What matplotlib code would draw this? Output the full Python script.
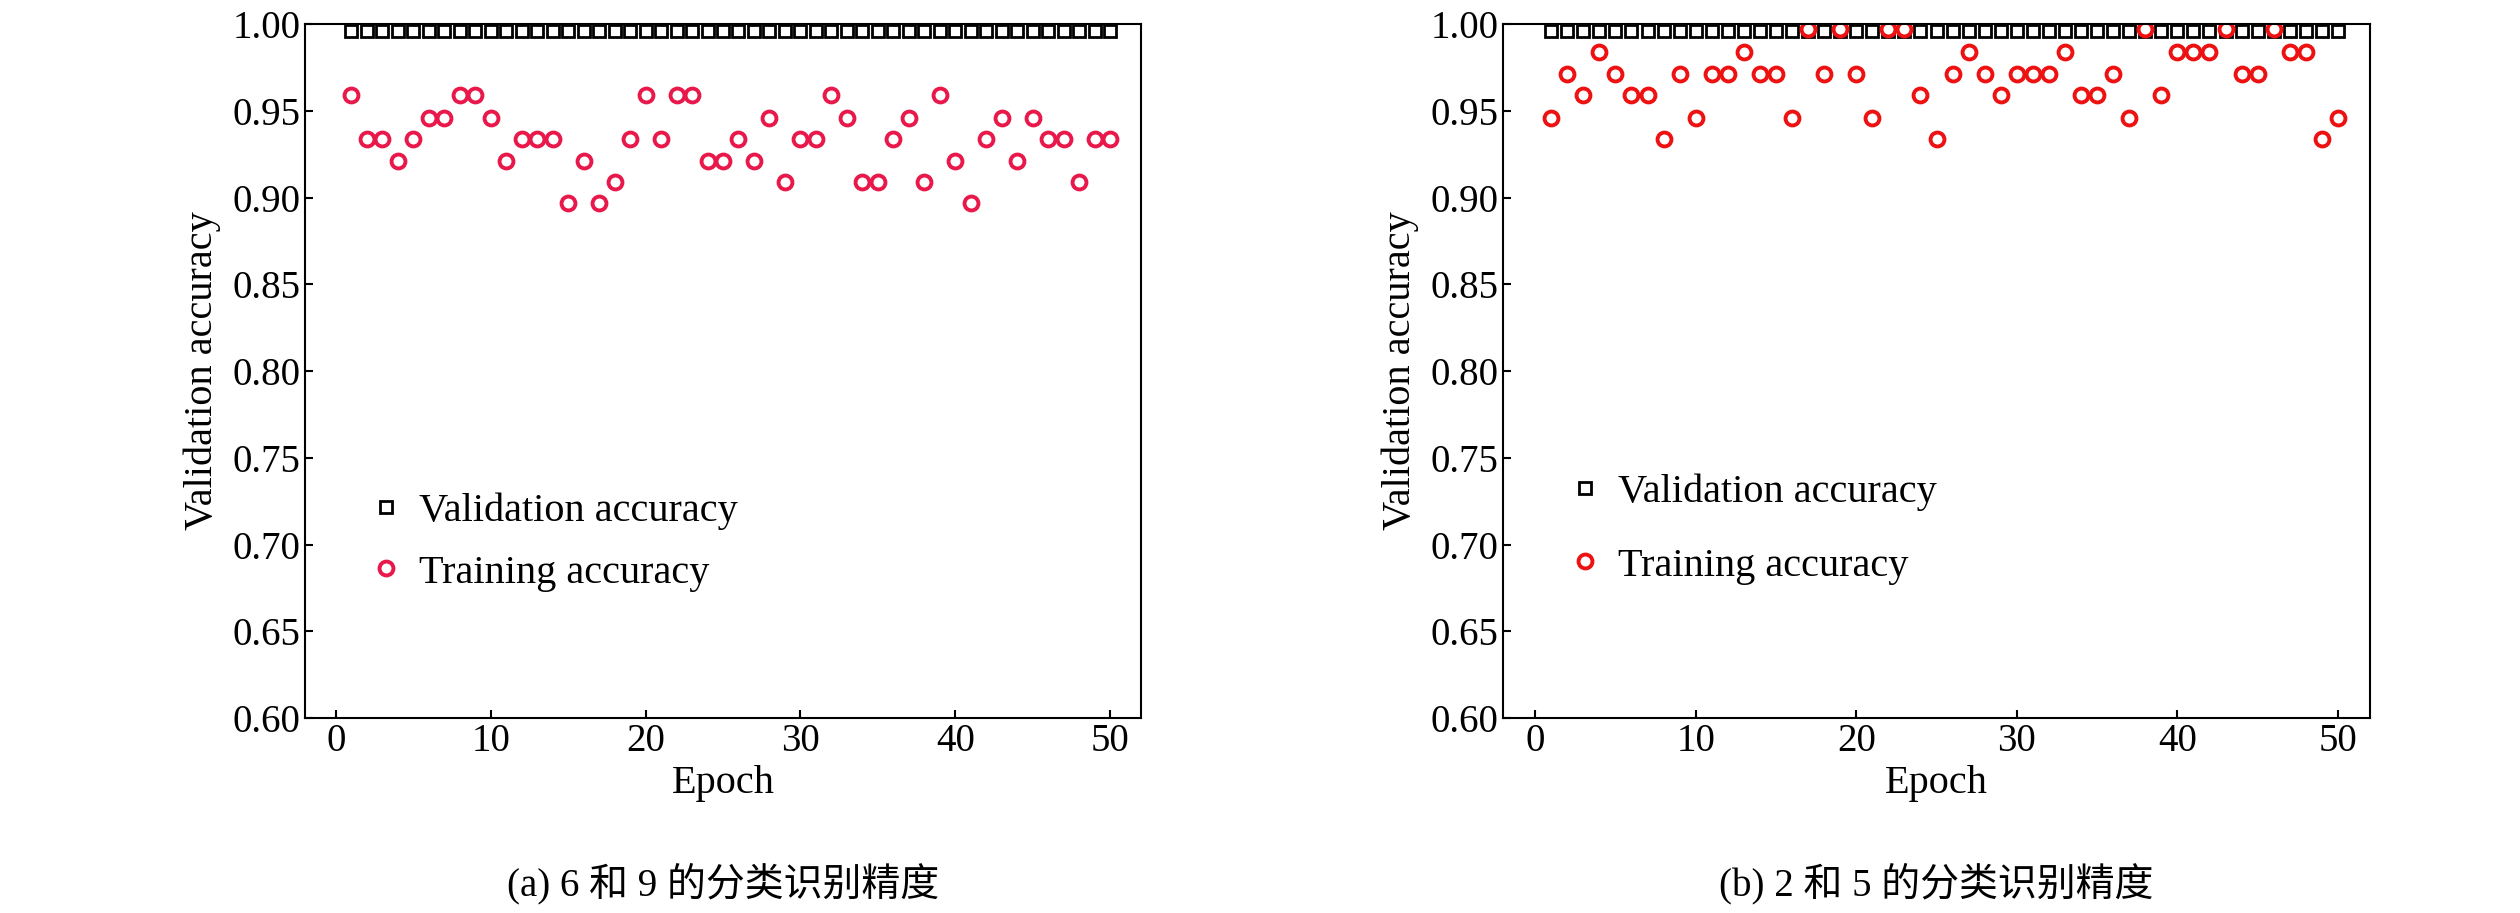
import matplotlib
matplotlib.use("Agg")
import matplotlib.pyplot as plt
import numpy as np

plt.rcParams['font.family'] = ['Liberation Serif', 'Noto Sans CJK SC']

epochs = list(range(1, 51))
val_a = [0.996] * 50
train_a = [0.959, 0.934, 0.934, 0.921, 0.934, 0.946, 0.946, 0.959, 0.959, 0.946,
           0.921, 0.934, 0.934, 0.934, 0.897, 0.921, 0.897, 0.909, 0.934, 0.959,
           0.934, 0.959, 0.959, 0.921, 0.921, 0.934, 0.921, 0.946, 0.909, 0.934,
           0.934, 0.959, 0.946, 0.909, 0.909, 0.934, 0.946, 0.909, 0.959, 0.921,
           0.897, 0.934, 0.946, 0.921, 0.946, 0.934, 0.934, 0.909, 0.934, 0.934]
val_b = [0.996] * 50
train_b = [0.946, 0.971, 0.959, 0.984, 0.971, 0.959, 0.959, 0.934, 0.971, 0.946,
           0.971, 0.971, 0.984, 0.971, 0.971, 0.946, 0.997, 0.971, 0.997, 0.971,
           0.946, 0.997, 0.997, 0.959, 0.934, 0.971, 0.984, 0.971, 0.959, 0.971,
           0.971, 0.971, 0.984, 0.959, 0.959, 0.971, 0.946, 0.997, 0.959, 0.984,
           0.984, 0.984, 0.997, 0.971, 0.971, 0.997, 0.984, 0.984, 0.934, 0.946]
captions = ["(a) 6 和 9 的分类识别精度", "(b) 2 和 5 的分类识别精度"]
yticks = [0.60, 0.65, 0.70, 0.75, 0.80, 0.85, 0.90, 0.95, 1.00]
xticks = [0, 10, 20, 30, 40, 50]

fig = plt.figure(figsize=(25.2, 9.13), dpi=100)
axes_pos = [[305/2520, 1-718/913, 836/2520, 694/913],
            [1503/2520, 1-718/913, 867/2520, 694/913]]
configs = [(val_a, train_a, '#e8194a', (0.03, 0.13), 0.6),
           (val_b, train_b, '#ee1111', (0.03, 0.14), 0.9)]
for i, (pos, (v, t, col, lp, ls)) in enumerate(zip(axes_pos, configs)):
    ax = fig.add_axes(pos)
    ax.plot(epochs, v, linestyle='none', marker='s', ms=8, mfc='white', mec='black', mew=2,
            label='Validation accuracy')
    ax.plot(epochs, t, linestyle='none', marker='o', ms=10, mfc='white', mec=col, mew=2.8,
            label='Training accuracy')
    ax.set_xlim(-2, 52)
    ax.set_ylim(0.60, 1.00)
    ax.set_xticks(xticks)
    ax.set_yticks(yticks)
    ax.set_yticklabels([f"{y:.2f}" for y in yticks])
    ax.tick_params(direction='in', labelsize=28, length=6, width=1.5, top=False, right=False)
    for s in ax.spines.values():
        s.set_linewidth(1.5)
    ax.set_xlabel('Epoch', fontsize=29, labelpad=4)
    ax.set_ylabel('Validation accuracy', fontsize=29, labelpad=8)
    ax.legend(loc='lower left', bbox_to_anchor=lp, frameon=False, fontsize=29,
              handletextpad=0.3, handlelength=1.0, labelspacing=ls)
    fig.text(pos[0] + pos[2] / 2, 1 - 884/913, captions[i], ha='center', va='center', fontsize=28)

fig.savefig('out.png', dpi=100)
